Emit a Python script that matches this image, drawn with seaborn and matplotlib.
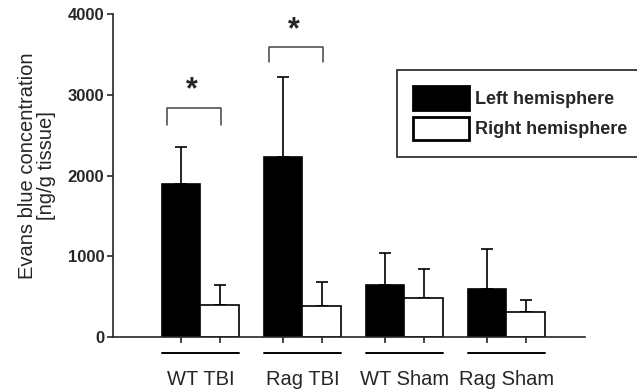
import numpy as np
import pandas as pd
import matplotlib
matplotlib.use("Agg")
import matplotlib.pyplot as plt
from matplotlib.container import BarContainer
import seaborn as sns

groups = ["WT TBI", "Rag TBI", "WT Sham", "Rag Sham"]
sides = ["Left hemisphere", "Right hemisphere"]
left_mean = [1900, 2230, 640, 600]
left_err = [450, 990, 405, 495]
right_mean = [400, 380, 490, 310]
right_err = [250, 300, 350, 155]

# significance brackets: (group index, bracket top, leg bottom)
sig_groups = [0, 1]
sig_top = [2840, 3590]
sig_leg = [2630, 3410]

sns.set_style("ticks")
plt.rcParams["font.family"] = ["Liberation Sans", "DejaVu Sans"]

df = pd.DataFrame({
    "group": groups * 2,
    "side": [sides[0]] * 4 + [sides[1]] * 4,
    "value": left_mean + right_mean,
})

fig = plt.figure(figsize=(6.37, 3.92), dpi=100)
ax = fig.add_axes([0.177, 0.140, 0.741, 0.824])

sns.barplot(data=df, x="group", y="value", hue="side", order=groups,
            hue_order=sides, palette={sides[0]: "black", sides[1]: "white"},
            edgecolor="black", linewidth=1.2, width=0.76, errorbar=None,
            saturation=1, ax=ax)

bar_conts = [c for c in ax.containers if isinstance(c, BarContainer)]
bar_centers = [b.get_x() + b.get_width() / 2 for c in bar_conts for b in c]

# upper-only error bars
for cont, errs in zip(bar_conts, [left_err, right_err]):
    xs = [b.get_x() + b.get_width() / 2 for b in cont]
    hs = [b.get_height() for b in cont]
    ax.errorbar(xs, hs, yerr=[np.zeros(len(errs)), errs], fmt="none",
                ecolor="black", elinewidth=1.2, capsize=4, capthick=1.2, zorder=0)

ax.set_ylim(0, 4000)
ax.set_xlim(-0.86, 3.77)
ax.set_yticks([0, 1000, 2000, 3000, 4000])
ax.tick_params(axis="y", labelsize=12, length=4, width=1.2, pad=2)
for t in ax.get_yticklabels():
    t.set_fontweight("bold")

# major ticks carry the group labels, minor ticks mark each bar
ax.set_xticks(range(len(groups)))
ax.set_xticklabels(groups, fontsize=14.5)
ax.tick_params(axis="x", which="major", length=0, pad=24)
ax.set_xticks(bar_centers, minor=True)
ax.tick_params(axis="x", which="minor", length=4, width=1.2)

for s in ["top", "right"]:
    ax.spines[s].set_visible(False)
for s in ["left", "bottom"]:
    ax.spines[s].set_linewidth(1.2)

# group underlines
for i in range(len(groups)):
    ax.plot([i - 0.38, i + 0.38], [-195, -195], color="black", lw=1.4, clip_on=False)

# significance brackets
for g, top, leg in zip(sig_groups, sig_top, sig_leg):
    x0, x1 = g - 0.33, g + 0.2
    ax.plot([x0, x0, x1, x1], [leg, top, top, leg], color="#444444", lw=1.1)
    ax.text((x0 + x1) / 2 - 0.02, top + 30, "*", ha="center", va="bottom",
            fontsize=22, fontweight="bold")

ax.set_xlabel("")
ax.set_ylabel("Evans blue concentration\n[ng/g tissue]", fontsize=14.5,
              linespacing=1.0)
ax.yaxis.set_label_coords(-0.12, 0.53)

handles, labels = ax.get_legend_handles_labels()
leg = ax.legend(handles, labels, loc="upper left",
                bbox_to_anchor=(0.623, 0.821), bbox_transform=fig.transFigure,
                frameon=True, fancybox=False, edgecolor="black",
                prop={"size": 13, "weight": "bold"}, handlelength=3.1,
                handleheight=1.65, borderpad=0.9, labelspacing=0.35,
                handletextpad=0.35, borderaxespad=0)
leg.get_frame().set_linewidth(1.3)
for h in leg.legend_handles:
    h.set_linewidth(2)

fig.savefig("out.png", dpi=100)
